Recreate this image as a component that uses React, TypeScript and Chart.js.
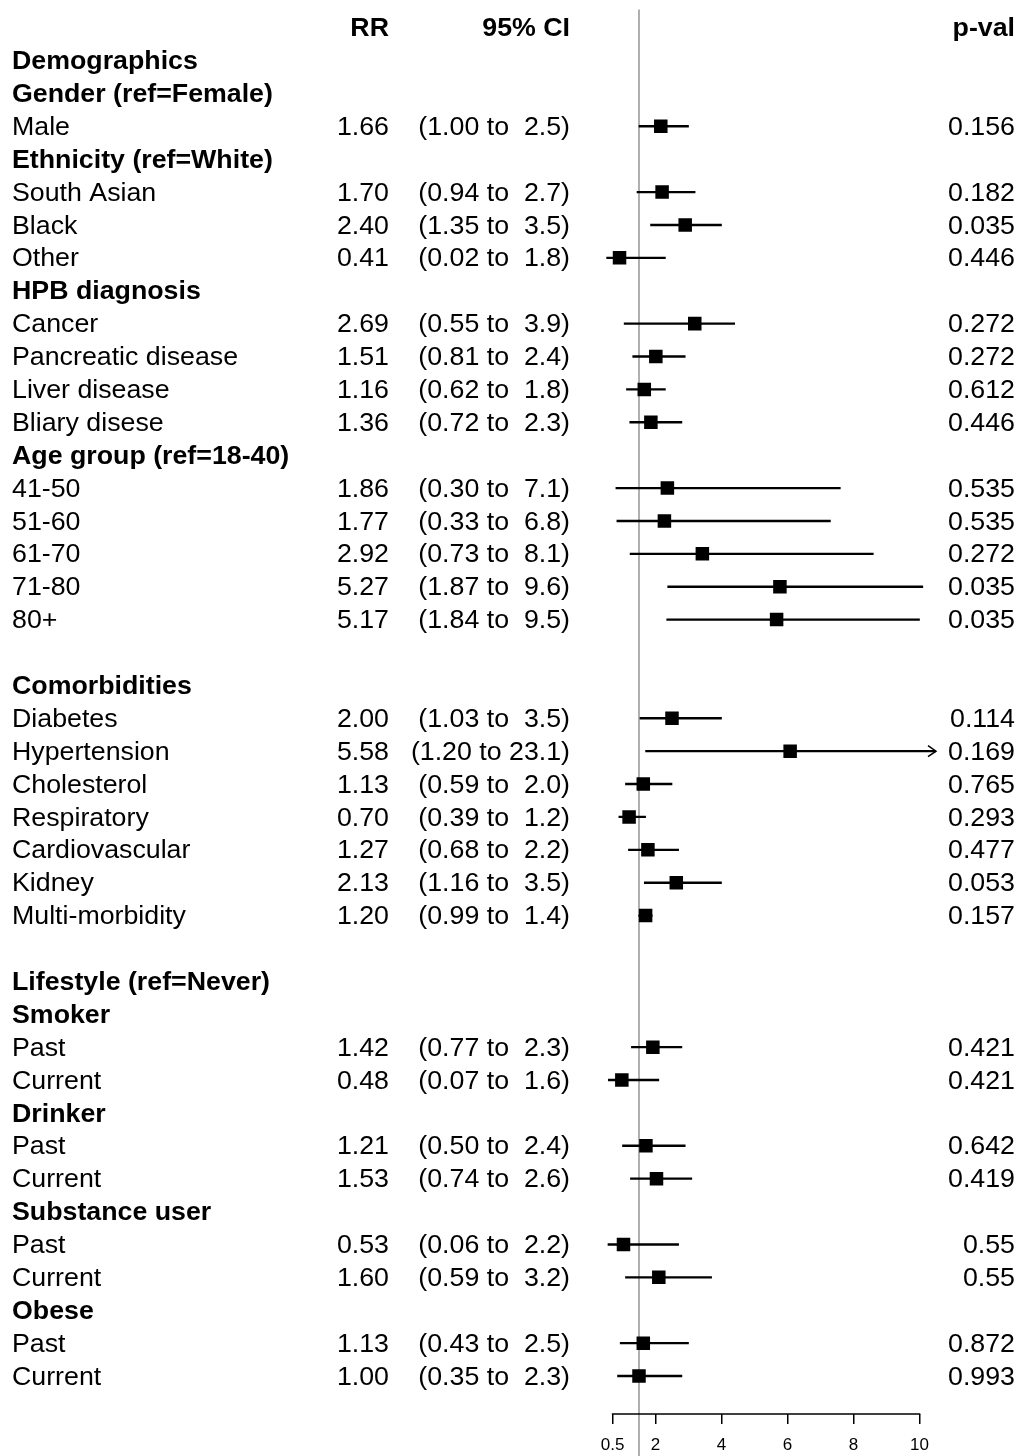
import React, { useEffect, useRef } from "react";
import { Chart, registerables } from "chart.js";

Chart.register(...registerables);

// ---------------- data ----------------
const LABELS: string[] = [
  "Demographics",
  "Gender (ref=Female)",
  "Male",
  "Ethnicity (ref=White)",
  "South Asian",
  "Black",
  "Other",
  "HPB diagnosis",
  "Cancer",
  "Pancreatic disease",
  "Liver disease",
  "Bliary disese",
  "Age group (ref=18-40)",
  "41-50",
  "51-60",
  "61-70",
  "71-80",
  "80+",
  "",
  "Comorbidities",
  "Diabetes",
  "Hypertension",
  "Cholesterol",
  "Respiratory",
  "Cardiovascular",
  "Kidney",
  "Multi-morbidity",
  "",
  "Lifestyle (ref=Never)",
  "Smoker",
  "Past",
  "Current",
  "Drinker",
  "Past",
  "Current",
  "Substance user",
  "Past",
  "Current",
  "Obese",
  "Past",
  "Current",
];

const RR: (number | null)[] = [
  null, null, 1.66, null, 1.70, 2.40, 0.41, null, 2.69, 1.51, 1.16, 1.36,
  null, 1.86, 1.77, 2.92, 5.27, 5.17, null, null, 2.00, 5.58, 1.13, 0.70,
  1.27, 2.13, 1.20, null, null, null, 1.42, 0.48, null, 1.21, 1.53, null,
  0.53, 1.60, null, 1.13, 1.00,
];

const CI_LOW: (number | null)[] = [
  null, null, 1.00, null, 0.94, 1.35, 0.02, null, 0.55, 0.81, 0.62, 0.72,
  null, 0.30, 0.33, 0.73, 1.87, 1.84, null, null, 1.03, 1.20, 0.59, 0.39,
  0.68, 1.16, 0.99, null, null, null, 0.77, 0.07, null, 0.50, 0.74, null,
  0.06, 0.59, null, 0.43, 0.35,
];

const CI_HIGH: (number | null)[] = [
  null, null, 2.5, null, 2.7, 3.5, 1.8, null, 3.9, 2.4, 1.8, 2.3,
  null, 7.1, 6.8, 8.1, 9.6, 9.5, null, null, 3.5, 23.1, 2.0, 1.2,
  2.2, 3.5, 1.4, null, null, null, 2.3, 1.6, null, 2.4, 2.6, null,
  2.2, 3.2, null, 2.5, 2.3,
];

const P_VALUES: (number | null)[] = [
  null, null, 0.156, null, 0.182, 0.035, 0.446, null, 0.272, 0.272, 0.612, 0.446,
  null, 0.535, 0.535, 0.272, 0.035, 0.035, null, null, 0.114, 0.169, 0.765, 0.293,
  0.477, 0.053, 0.157, null, null, null, 0.421, 0.421, null, 0.642, 0.419, null,
  0.55, 0.55, null, 0.872, 0.993,
];

const COLUMN_HEADERS = ["RR", "95% CI", "p-val"];
const TICK_POSITIONS = [0.2, 1.5, 3.5, 5.5, 7.5, 9.5];
const TICK_LABELS = ["0.5", "2", "4", "6", "8", "10"];
const REFERENCE_VALUE = 1;
const X_MIN = 0;
const X_MAX = 10;

// ---------------- styling ----------------
const FONT = '"Liberation Sans", Arial, Helvetica, sans-serif';
const FS = 25;
const SX = 1.07;
const COL_LABEL_X = 12;
const COL_RR_X = 389;
const COL_CI_X = 570;
const COL_P_X = 1015;

function drawText(
  ctx: CanvasRenderingContext2D,
  text: string,
  x: number,
  y: number,
  align: CanvasTextAlign,
  bold: boolean
) {
  ctx.save();
  ctx.font = `${bold ? "bold " : ""}${FS}px ${FONT}`;
  ctx.textAlign = align;
  ctx.textBaseline = "alphabetic";
  ctx.fillStyle = "#000";
  ctx.translate(x, y + FS * 0.345);
  ctx.scale(SX, 1);
  ctx.fillText(text, 0, 0);
  ctx.restore();
}

const forestPlugin = {
  id: "forestExtras",
  beforeDatasetsDraw(chart: any) {
    const ctx: CanvasRenderingContext2D = chart.ctx;
    const xs = chart.scales.x;
    const px = xs.getPixelForValue(REFERENCE_VALUE);
    ctx.save();
    ctx.strokeStyle = "#858585";
    ctx.lineWidth = 1.3;
    ctx.beginPath();
    ctx.moveTo(px, chart.chartArea.top);
    ctx.lineTo(px, chart.height);
    ctx.stroke();
    ctx.restore();
  },
  afterDatasetsDraw(chart: any) {
    const ctx: CanvasRenderingContext2D = chart.ctx;
    const xs = chart.scales.x;
    const ys = chart.scales.y;
    ctx.save();
    ctx.strokeStyle = "#000";
    ctx.lineWidth = 1.5;
    LABELS.forEach((_, i) => {
      const hi = CI_HIGH[i];
      if (hi != null && hi > X_MAX) {
        const tip = xs.getPixelForValue(X_MAX);
        const y = ys.getPixelForValue(i);
        ctx.beginPath();
        ctx.moveTo(tip - 8, y - 5.5);
        ctx.lineTo(tip, y);
        ctx.lineTo(tip - 8, y + 5.5);
        ctx.stroke();
      }
    });
    ctx.restore();
  },
  afterDraw(chart: any) {
    const ctx: CanvasRenderingContext2D = chart.ctx;
    const xs = chart.scales.x;
    const ys = chart.scales.y;
    // axis line between first and last tick
    ctx.save();
    ctx.strokeStyle = "#000";
    ctx.lineWidth = 1.5;
    ctx.beginPath();
    const yb = chart.chartArea.bottom;
    ctx.moveTo(xs.getPixelForValue(TICK_POSITIONS[0]) - 0.75, yb);
    ctx.lineTo(xs.getPixelForValue(TICK_POSITIONS[TICK_POSITIONS.length - 1]) + 0.75, yb);
    ctx.stroke();
    ctx.restore();

    // header row
    const hy = ys.getPixelForValue(-1);
    drawText(ctx, COLUMN_HEADERS[0], COL_RR_X, hy, "right", true);
    drawText(ctx, COLUMN_HEADERS[1], COL_CI_X, hy, "right", true);
    drawText(ctx, COLUMN_HEADERS[2], COL_P_X, hy, "right", true);

    LABELS.forEach((label, i) => {
      const y = ys.getPixelForValue(i);
      const rr = RR[i];
      const lo = CI_LOW[i];
      const hi = CI_HIGH[i];
      const p = P_VALUES[i];
      if (label) drawText(ctx, label, COL_LABEL_X, y, "left", rr == null);
      if (rr != null) drawText(ctx, rr.toFixed(2), COL_RR_X, y, "right", false);
      if (lo != null && hi != null) {
        const txt = `(${lo.toFixed(2)} to ${hi.toFixed(1).padStart(4, " ")})`;
        drawText(ctx, txt, COL_CI_X, y, "right", false);
      }
      if (p != null) drawText(ctx, String(p), COL_P_X, y, "right", false);
    });
  },
};

export default function App() {
  const ref = useRef<HTMLCanvasElement>(null);

  useEffect(() => {
    const canvas = ref.current;
    if (!canvas) return;
    const rows = LABELS.map((_, i) => i).filter((i) => RR[i] != null);

    const chart = new Chart(canvas, {
      type: "bar",
      data: {
        datasets: [
          {
            type: "scatter",
            data: rows.map((i) => ({ x: RR[i] as number, y: i })),
            pointStyle: "rect",
            pointRadius: 9.55,
            pointHoverRadius: 9.55,
            backgroundColor: "#000",
            borderColor: "#000",
            borderWidth: 0,
            order: 0,
          } as any,
          {
            type: "bar",
            indexAxis: "y",
            data: rows.map((i) => ({ y: i, x: [CI_LOW[i] as number, CI_HIGH[i] as number] })),
            backgroundColor: "#000",
            borderWidth: 0,
            barThickness: 1.7,
            order: 1,
          } as any,
        ],
      },
      options: {
        animation: false,
        responsive: false,
        events: [],
        layout: { padding: { left: 606, right: 85, top: 9, bottom: 0 } },
        plugins: { legend: { display: false }, tooltip: { enabled: false } },
        scales: {
          x: {
            type: "linear",
            position: "bottom",
            min: X_MIN,
            max: X_MAX,
            offset: false,
            border: { display: false },
            grid: {
              offset: false,
              drawOnChartArea: false,
              drawTicks: true,
              tickLength: 10,
              color: "#000",
              lineWidth: 1.5,
            },
            ticks: {
              font: { family: FONT, size: 17 },
              color: "#000",
              padding: 11,
              maxRotation: 0,
              autoSkip: false,
              callback: (_v: any, idx: number) => TICK_LABELS[idx],
            },
            afterBuildTicks: (scale: any) => {
              scale.ticks = TICK_POSITIONS.map((v) => ({ value: v }));
            },
            afterFit: (scale: any) => {
              scale.height = 42;
            },
          },
          y: {
            type: "linear",
            reverse: true,
            min: -1.55,
            max: 41.155,
            offset: false,
            grid: { offset: false },
            display: false,
          },
        },
      } as any,
      plugins: [forestPlugin],
    });

    return () => chart.destroy();
  }, []);

  return (
    <div style={{ position: "absolute", left: 0, top: 0, width: 1021, height: 1456 }}>
      <canvas
        ref={ref}
        width={1021}
        height={1456}
        style={{ display: "block", width: 1021, height: 1456 }}
      />
    </div>
  );
}
